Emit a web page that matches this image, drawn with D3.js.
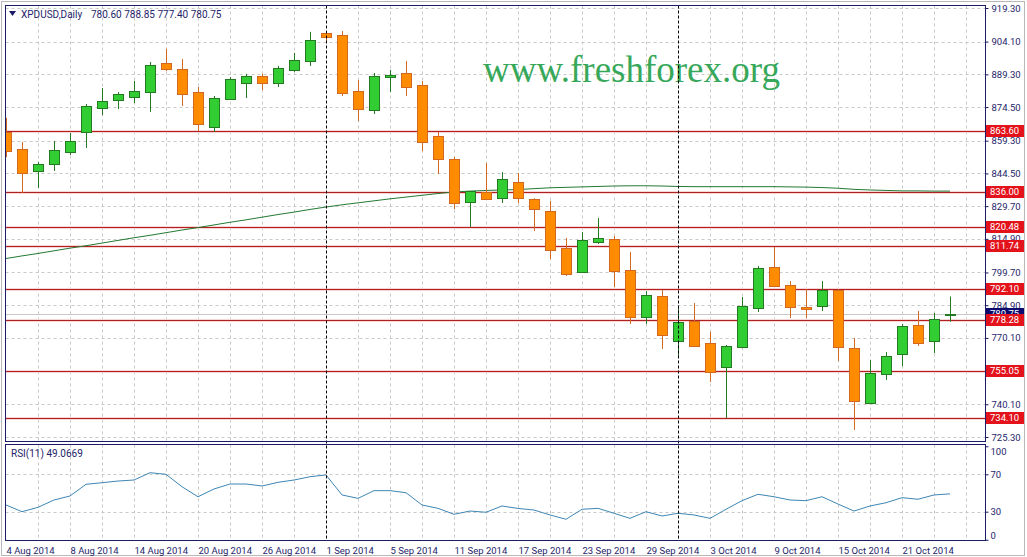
<!DOCTYPE html>
<html><head><meta charset="utf-8">
<script src="https://cdn.jsdelivr.net/npm/d3@7"></script>
<style>
body{margin:0;background:#fff;}
svg{display:block;font-family:Roboto,"Liberation Sans",sans-serif;}
</style></head><body>
<svg id="c" width="1027" height="557"></svg>
<script>
// ---------- DATA ----------
const symbol = "XPDUSD,Daily";
const headerValues = "780.60 788.85 777.40 780.75";
const dates = [
"2014-08-04","2014-08-05","2014-08-06","2014-08-07","2014-08-08",
"2014-08-11","2014-08-12","2014-08-13","2014-08-14","2014-08-15",
"2014-08-18","2014-08-19","2014-08-20","2014-08-21","2014-08-22",
"2014-08-25","2014-08-26","2014-08-27","2014-08-28","2014-08-29",
"2014-09-01","2014-09-02","2014-09-03","2014-09-04","2014-09-05",
"2014-09-08","2014-09-09","2014-09-10","2014-09-11","2014-09-12",
"2014-09-15","2014-09-16","2014-09-17","2014-09-18","2014-09-19",
"2014-09-22","2014-09-23","2014-09-24","2014-09-25","2014-09-26",
"2014-09-29","2014-09-30","2014-10-01","2014-10-02","2014-10-03",
"2014-10-06","2014-10-07","2014-10-08","2014-10-09","2014-10-10",
"2014-10-13","2014-10-14","2014-10-15","2014-10-16","2014-10-17",
"2014-10-20","2014-10-21","2014-10-22","2014-10-23","2014-10-24"];
const open  = [863.2,855.5,845.6,848.8,854.2,863.2,874.1,877.7,879.1,881.3,
               894.4,891.7,881.3,865.5,878.2,885.4,888.6,885.4,891.3,895.3,
               908.0,907.1,881.8,873.2,888.1,889.9,884.5,861.4,851.0,831.6,
               836.1,833.4,840.6,832.9,827.5,810.8,799.9,813.5,814.8,800.8,
               779.6,789.1,768.7,777.8,767.8,757.0,766.0,783.6,802.2,794.0,
               784.1,784.5,791.8,765.6,740.7,753.8,762.8,776.0,768.7,780.60];
const high  = [869.6,858.7,849.7,859.2,862.8,875.9,883.1,881.3,886.3,894.9,
               900.8,896.2,883.6,879.5,888.1,889.5,889.5,893.1,899.0,908.5,
               908.9,908.9,886.7,889.9,891.3,895.3,886.3,863.2,851.9,836.6,
               849.2,845.1,844.7,833.3,832.0,815.3,818.0,824.3,816.2,809.0,
               791.3,791.8,784.5,785.9,772.8,766.9,788.6,802.6,811.2,795.8,
               792.2,795.8,792.2,770.1,760.1,763.7,776.4,782.3,781.4,788.85];
const low   = [851.9,835.6,837.9,845.6,852.8,856.0,870.9,873.6,876.3,872.3,
               890.8,875.0,863.7,863.2,877.7,878.6,882.2,883.6,890.4,893.1,
               903.9,879.5,868.2,871.4,881.3,879.5,854.6,844.2,828.4,820.3,
               832.5,831.1,831.1,818.5,805.8,798.1,799.5,812.6,793.1,776.4,
               776.4,765.1,761.5,766.0,750.2,733.9,765.5,781.8,793.3,779.1,
               779.1,782.3,759.7,728.5,740.3,751.1,757.4,766.5,763.3,777.40];
const close = [854.8,844.7,848.8,855.1,859.2,875.0,877.2,880.4,881.8,893.5,
               891.7,880.4,866.8,878.6,887.2,888.6,885.4,892.2,895.8,904.8,
               906.2,880.9,873.6,888.6,889.0,883.6,858.7,851.0,831.1,836.5,
               832.9,842.0,833.4,828.4,809.9,799.0,814.4,815.3,800.4,779.6,
               789.5,771.4,777.3,766.5,754.7,766.5,784.5,801.7,793.6,784.1,
               783.2,791.8,766.0,741.6,754.2,761.9,775.5,767.8,778.7,780.75];
const movingAvg = [806.0,807.2,808.3,809.5,810.7,811.8,813.0,814.2,815.4,816.5,
               817.7,818.9,820.0,821.2,822.4,823.5,824.7,825.9,827.0,828.2,
               829.3,830.3,831.2,832.1,833.0,833.8,834.6,835.4,836.1,836.5,
               836.8,837.0,837.2,837.6,838.0,838.2,838.4,838.6,838.8,838.9,
               838.9,838.8,838.6,838.5,838.5,838.5,838.5,838.5,838.5,838.4,
               838.3,838.1,837.8,837.3,837.0,836.8,836.6,836.6,836.5,836.5];
const rsi = [37.2,30.0,34.7,42.5,46.8,59.3,61.0,62.8,63.9,71.7,
             70.0,56.7,46.0,54.3,59.6,59.6,57.5,61.4,63.9,67.4,
             69.3,47.9,44.3,52.5,52.5,50.3,37.2,33.6,27.2,30.7,
             29.4,36.1,33.5,31.8,26.5,21.9,32.6,33.6,28.3,22.9,
             30.0,25.4,28.3,26.5,22.9,32.6,41.8,48.6,46.0,42.5,
             41.8,46.0,38.2,30.7,36.1,39.6,45.0,43.3,47.9,49.07];
const rsiLabel = "RSI(11) 49.0669";
const priceTicks = [919.30,904.10,889.30,874.50,859.30,844.50,829.70,814.90,799.70,784.90,770.10,755.30,740.10,725.30];
const levels = [863.60,836.00,820.48,811.74,792.10,778.28,755.05,734.10];
const rsiTicks = [100,70,30,0];
const rsiGrid = [70,30];
const separators = ["2014-09-01","2014-10-01"];
const lastPrice = 780.75;
const watermark = "www.freshforex.org";

// ---------- LAYOUT ----------
const L = 5.5, R = 985.5, mT = 5.5, mB = 441.5, rT = 444.5, rB = 540.5;
const navy = "#1b1b66", txt = "#1e1e6a";
const svg = d3.select("#c");
const parse = d3.timeParse("%Y-%m-%d"), fmt = d3.timeFormat("%-d %b %Y");
const x = d3.scaleLinear().domain([0, dates.length - 1]).range([6, 950]);
const y = d3.scaleLinear().domain([725.3, 919.3]).range([437, 8]);
const yr = d3.scaleLinear().domain([0, 100]).range([539.75, 446.25]);
const px = v => Math.round(v) + 0.5;

svg.append("rect").attr("x",0).attr("y",0).attr("width",1027).attr("height",557).attr("fill","#fff");
svg.append("rect").attr("x",1.5).attr("y",1.5).attr("width",1023).attr("height",554)
  .attr("fill","none").attr("stroke","#b8b8b8");

const defs = svg.append("defs");
defs.append("clipPath").attr("id","cm").append("rect").attr("x",L+0.5).attr("y",mT+0.5).attr("width",R-L-1).attr("height",mB-mT-1);
defs.append("clipPath").attr("id","cr").append("rect").attr("x",L+0.5).attr("y",rT+0.5).attr("width",R-L-1).attr("height",rB-rT-1);

const gm = svg.append("g").attr("clip-path","url(#cm)");
const gr = svg.append("g").attr("clip-path","url(#cr)");

// vertical grid
const sepIdx = separators.map(s => dates.indexOf(s));
const vg = d3.range(2, 61, 2).filter(i => !sepIdx.includes(i));
[ [gm, mT, mB], [gr, rT, rB] ].forEach(([g, a, b]) => {
  g.selectAll(null).data(vg).join("line")
    .attr("x1", i => px(x(i))).attr("x2", i => px(x(i))).attr("y1", a).attr("y2", b)
    .attr("stroke","#c9c9c9").attr("stroke-dasharray","3,3");
});
// horizontal grid main
gm.selectAll(null).data(priceTicks).join("line")
  .attr("x1",L).attr("x2",R).attr("y1",d=>px(y(d))).attr("y2",d=>px(y(d)))
  .attr("stroke","#c9c9c9").attr("stroke-dasharray","3,3");
gr.selectAll(null).data(rsiGrid).join("line")
  .attr("x1",L).attr("x2",R).attr("y1",d=>px(yr(d))).attr("y2",d=>px(yr(d)))
  .attr("stroke","#c9c9c9").attr("stroke-dasharray","3,3");

// watermark
gm.append("text").attr("x",483).attr("y",82).text(watermark)
  .attr("font-family","'Liberation Serif','Times New Roman',serif").attr("font-size",37)
  .attr("fill","#37a85a");

// bid line
gm.append("line").attr("x1",L).attr("x2",R).attr("y1",px(y(lastPrice))).attr("y2",px(y(lastPrice)))
  .attr("stroke","#c8c8c8");

// level lines
levels.forEach(v => {
  const yy = px(y(v));
  gm.append("line").attr("x1",L).attr("x2",R).attr("y1",yy).attr("y2",yy)
    .attr("stroke","#f6d6d6").attr("stroke-width",3);
  gm.append("line").attr("x1",L).attr("x2",R).attr("y1",yy).attr("y2",yy)
    .attr("stroke","#b32020").attr("stroke-width",1);
});

// separators
sepIdx.forEach(i => {
  svg.append("line").attr("x1",px(x(i))).attr("x2",px(x(i))).attr("y1",mT).attr("y2",rB)
    .attr("stroke","#000").attr("stroke-dasharray","3,2");
});

// moving average
gm.append("path").datum(movingAvg)
  .attr("d", d3.line().x((d,i)=>x(i)).y(d=>y(d)))
  .attr("fill","none").attr("stroke","#237a33").attr("stroke-width",1);

// candles
const cg = gm.selectAll(null).data(dates.map((d,i)=>i)).join("g");
cg.append("line")
  .attr("x1", i => px(x(i))).attr("x2", i => px(x(i)))
  .attr("y1", i => y(high[i])).attr("y2", i => y(low[i]))
  .attr("stroke", i => close[i] >= open[i] ? "#237a23" : "#d2691e");
cg.append("rect")
  .attr("x", i => Math.round(x(i)) - 4.5)
  .attr("y", i => Math.round(y(Math.max(open[i], close[i]))) + 0.5)
  .attr("width", 10)
  .attr("height", i => Math.max(0, Math.round(y(Math.min(open[i], close[i]))) - Math.round(y(Math.max(open[i], close[i])))))
  .attr("fill", i => close[i] >= open[i] ? "#32cd32" : "#ff8c00")
  .attr("stroke", i => close[i] >= open[i] ? "#237a23" : "#d2691e");

// RSI line
gr.append("path").datum(rsi)
  .attr("d", d3.line().x((d,i)=>x(i)).y(d=>yr(d)))
  .attr("fill","none").attr("stroke","#3f86b5").attr("stroke-width",1);

// panel borders
svg.append("rect").attr("x",L).attr("y",mT).attr("width",R-L).attr("height",mB-mT).attr("fill","none").attr("stroke",navy);
svg.append("rect").attr("x",L).attr("y",rT).attr("width",R-L).attr("height",rB-rT).attr("fill","none").attr("stroke",navy);

// header
svg.append("path").attr("d","M9,11 L16,11 L12.5,16 Z").attr("fill",navy);
svg.append("text").attr("x",21).attr("y",18).text(symbol).attr("font-size",10).attr("fill",txt);
svg.append("text").attr("x",91).attr("y",18).text(headerValues).attr("font-size",10).attr("fill",txt);
svg.append("text").attr("x",11).attr("y",457).text(rsiLabel).attr("font-size",10).attr("fill",txt);

// price axis
const ax = svg.append("g").attr("transform",`translate(${R},0)`)
  .call(d3.axisRight(y).tickValues(priceTicks).tickSize(3).tickPadding(3).tickFormat(d3.format(".2f")));
ax.select(".domain").remove();
ax.selectAll("line").attr("stroke",navy);
ax.selectAll("text").attr("fill",txt).attr("font-size",9.5).attr("font-family","Roboto,sans-serif");

// rsi axis
const ar = svg.append("g").attr("transform",`translate(${R},0)`)
  .call(d3.axisRight(yr).tickValues(rsiTicks).tickSize(3).tickPadding(2).tickFormat(d3.format("d")));
ar.select(".domain").remove();
ar.selectAll("line").attr("stroke",navy);
ar.selectAll("text").attr("fill",txt).attr("font-size",9.5).attr("font-family","Roboto,sans-serif")
  .attr("dy", d => d === 100 ? "0.85em" : d === 0 ? "-0.15em" : "0.32em");

// current price label (navy)
const lp = svg.append("g").attr("transform",`translate(986,${Math.round(y(lastPrice))})`);
lp.append("rect").attr("x",0).attr("y",-6).attr("width",38).attr("height",12).attr("fill","#0a0a6e");
lp.append("text").attr("x",4).attr("y",0).attr("dy","0.35em").text(d3.format(".2f")(lastPrice))
  .attr("fill","#fff").attr("font-size",9.5);

// level labels
levels.forEach(v => {
  const g = svg.append("g").attr("transform",`translate(986,${Math.round(y(v))})`);
  g.append("rect").attr("x",0).attr("y",-6).attr("width",38).attr("height",12).attr("fill","#e3121b");
  g.append("text").attr("x",4).attr("y",0).attr("dy","0.35em").text(d3.format(".2f")(v))
    .attr("fill","#fff").attr("font-size",9.5);
});

// date axis
const tickIdx = d3.range(0, dates.length, 4);
const ad = svg.append("g").attr("transform",`translate(0,${rB})`)
  .call(d3.axisBottom(x).tickValues(tickIdx).tickSize(0).tickPadding(0).tickFormat(i => fmt(parse(dates[i]))));
ad.select(".domain").remove();
ad.selectAll("text").attr("text-anchor","start").attr("y",13.5).attr("dy",0)
  .attr("fill",txt).attr("font-size",9.5).attr("font-family","Roboto,sans-serif");
</script>
</body></html>
